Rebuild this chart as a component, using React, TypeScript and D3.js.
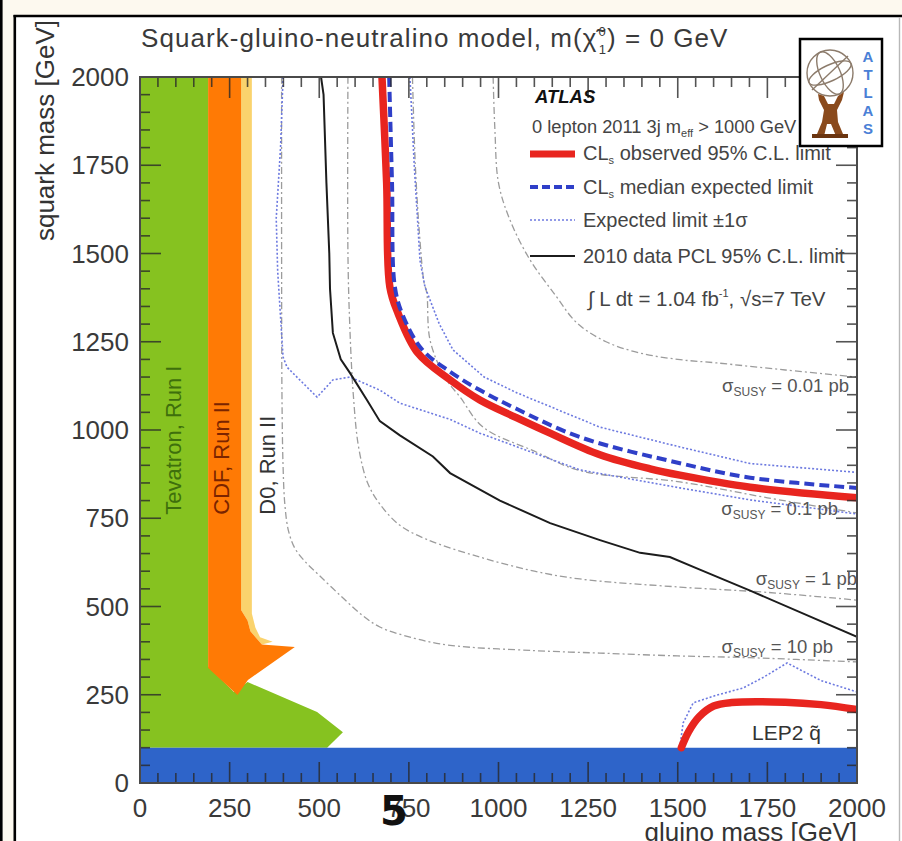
import React from 'react';
import * as d3 from 'd3';

// ---------- axis ticks ----------
const gluinoTicks = [0, 250, 500, 750, 1000, 1250, 1500, 1750, 2000];
const squarkTicks = [0, 250, 500, 750, 1000, 1250, 1500, 1750, 2000];

// ---------- excluded regions (gluino, squark) ----------
const lepBandX = [0, 2000, 2000, 0];
const lepBandY = [0, 0, 100, 100];

const tevX = [0, 0, 190, 190, 262, 300, 494, 566, 522];
const tevY = [100, 2000, 2000, 330, 258, 286, 201, 144, 100];

const d0X = [282, 312, 312, 322, 335, 370, 340, 308, 300, 282];
const d0Y = [2000, 2000, 480, 440, 413, 400, 392, 430, 460, 490];

const cdfX = [190, 282, 282, 300, 308, 340, 432, 301, 272, 190];
const cdfY = [2000, 2000, 490, 460, 430, 392, 385, 292, 249, 326];

// ---------- limit curves ----------
const obsX = [675, 688, 697, 720, 775, 865, 948, 1050, 1144, 1283, 1423, 1506, 1702, 2000];
const obsY = [2000, 1700, 1405, 1330, 1218, 1142, 1085, 1035, 991, 930, 890, 872, 838, 808];

const expX = [695, 703, 711, 735, 787, 865, 948, 1050, 1227, 1506, 1702, 2000];
const expY = [2000, 1700, 1405, 1320, 1228, 1165, 1113, 1060, 980, 906, 865, 836];

const upX = [753, 765, 781, 795, 835, 873, 960, 1052, 1283, 1506, 1702, 2000];
const upY = [2000, 1750, 1480, 1405, 1300, 1227, 1150, 1105, 1008, 952, 905, 880];

const loX = [399, 392, 380, 384, 399, 410, 494, 538, 586, 669, 725, 865, 948, 1227, 1506, 1702, 2000];
const loY = [2000, 1800, 1600, 1450, 1207, 1178, 1093, 1142, 1150, 1113, 1076, 1030, 991, 887, 836, 802, 762];

const lepDotX = [1506, 1515, 1543, 1609, 1682, 1740, 1805, 1900, 2000];
const lepDotY = [102, 170, 227, 249, 269, 300, 340, 290, 258];

const lepObsX = [1510, 1530, 1560, 1600, 1650, 1800, 1900, 2000];
const lepObsY = [100, 145, 188, 218, 228, 229, 222, 208];

const pclX = [505, 512, 520, 528, 530, 538, 560, 586, 633, 669, 725, 817, 865, 1004, 1144, 1283, 1395, 1478, 1560, 1702, 2000];
const pclY = [2000, 1950, 1700, 1500, 1400, 1275, 1200, 1161, 1085, 1025, 985, 925, 878, 800, 736, 688, 652, 640, 605, 545, 414];

// ---------- cross-section contours ----------
const c001X = [985, 990, 1000, 1032, 1088, 1160, 1219, 1300, 1395, 1500, 1609, 1800, 2000];
const c001Y = [2000, 1850, 1700, 1595, 1482, 1380, 1303, 1250, 1218, 1200, 1190, 1170, 1150];

const c01X = [760, 768, 780, 792, 800, 809, 850, 893, 957, 1100, 1227, 1506, 1750, 2000];
const c01Y = [2000, 1750, 1550, 1420, 1388, 1255, 1150, 1093, 1008, 940, 885, 853, 808, 765];

const c1X = [580, 580, 585, 595, 610, 635, 669, 725, 800, 948, 1100, 1227, 1506, 1750, 2000];
const c1Y = [2000, 1500, 1300, 1100, 950, 850, 790, 730, 690, 640, 600, 578, 555, 540, 518];

const c10X = [395, 395, 396, 399, 404, 414, 432, 460, 500, 560, 620, 669, 765, 865, 1100, 1283, 1500, 1700, 2000];
const c10Y = [2000, 1500, 1100, 900, 790, 715, 665, 628, 588, 530, 475, 442, 410, 390, 375, 368, 360, 355, 343];

const sigmaLabels = ['0.01 pb', '0.1 pb', '1 pb', '10 pb'];

const FONT = '"Liberation Sans", Arial, Helvetica, sans-serif';

export default function App() {
  const x = d3.scaleLinear().domain([0, 2000]).range([140, 857]);
  const y = d3.scaleLinear().domain([0, 2000]).range([783, 77]);
  const zip = (xs: number[], ys: number[]) => xs.map((v, i) => [v, ys[i]] as [number, number]);
  const lin = d3.line<[number, number]>().x(d => x(d[0])).y(d => y(d[1]));
  const smooth = d3
    .line<[number, number]>()
    .x(d => x(d[0]))
    .y(d => y(d[1]))
    .curve(d3.curveCatmullRom.alpha(0.5));
  const poly = (xs: number[], ys: number[]) => lin(zip(xs, ys)) + 'Z';

  const [x0, x1] = x.range();
  const [y0, y1] = y.range();
  const minor = d3.range(0, 2001, 50);

  const tickColor = '#2a2a2a';
  const grayDash = { fill: 'none', stroke: '#9c9c9c', strokeWidth: 1.3, strokeDasharray: '7 3 2 3' };
  const dotted = { fill: 'none', stroke: '#6d7ae0', strokeWidth: 1.6, strokeDasharray: '2 2' };

  return (
    <svg
      width={902}
      height={841}
      style={{ position: 'fixed', left: 0, top: 0, display: 'block' }}
      fontFamily={FONT}
    >
      <defs>
        <clipPath id="plotclip">
          <rect x={x0} y={y1} width={x1 - x0} height={y0 - y1} />
        </clipPath>
      </defs>
      {/* slide background */}
      <rect x={0} y={0} width={902} height={841} fill="#fdf9ef" />
      <rect x={15} y={16} width={887} height={825} fill="#ffffff" />
      <line x1={1.3} x2={1.3} y1={0} y2={841} stroke="#000" strokeWidth={2.6} />
      <line x1={14.8} x2={14.8} y1={15} y2={841} stroke="#000" strokeWidth={2.6} />
      <line x1={13.5} x2={902} y1={16} y2={16} stroke="#000" strokeWidth={2.4} />
      <line x1={899.5} x2={899.5} y1={17} y2={841} stroke="#b8b8b8" strokeWidth={1.4} />

      {/* title */}
      <text x={141} y={47} fontSize={26} letterSpacing={1.05} fill="#3a3a3a">
        Squark-gluino-neutralino model,  m(χ̃
        <tspan fontSize={13} dx={1} dy={-11}>0</tspan>
        <tspan fontSize={13} dx={-8} dy={18}>1</tspan>
        <tspan dy={-7}>) = 0 GeV</tspan>
      </text>

      {/* regions */}
      <g clipPath="url(#plotclip)">
        <path d={poly(tevX, tevY)} fill="#86c220" />
        <path d={poly(d0X, d0Y)} fill="#fad36d" />
        <path d={poly(cdfX, cdfY)} fill="#ff7a05" />
        <path d={poly(lepBandX, lepBandY)} fill="#2e64c9" />

        {/* cross-section contours */}
        <path d={smooth(zip(c001X, c001Y)) || ''} {...grayDash} />
        <path d={smooth(zip(c01X, c01Y)) || ''} {...grayDash} />
        <path d={smooth(zip(c1X, c1Y)) || ''} {...grayDash} />
        <path d={smooth(zip(c10X, c10Y)) || ''} {...grayDash} />

        {/* expected band edges */}
        <path d={lin(zip(upX, upY)) || ''} {...dotted} />
        <path d={lin(zip(loX, loY)) || ''} {...dotted} />
        <path d={lin(zip(lepDotX, lepDotY)) || ''} {...dotted} />

        {/* 2010 PCL */}
        <path d={lin(zip(pclX, pclY)) || ''} fill="none" stroke="#1c1c1c" strokeWidth={2} />

        {/* observed */}
        <path d={smooth(zip(obsX, obsY)) || ''} fill="none" stroke="#e8251f" strokeWidth={7.5} strokeLinejoin="round" />
        <path d={smooth(zip(lepObsX, lepObsY)) || ''} fill="none" stroke="#e8251f" strokeWidth={7.5} strokeLinecap="round" />
        {/* expected */}
        <path d={smooth(zip(expX, expY)) || ''} fill="none" stroke="#2f3fc8" strokeWidth={4} strokeDasharray="10 5" />
      </g>

      {/* band labels */}
      <text transform={`translate(181,${y(760)}) rotate(-90)`} fontSize={22} fill="#3e6f0c">Tevatron, Run I</text>
      <text transform={`translate(229,${y(760)}) rotate(-90)`} fontSize={22} fill="#7a2400">CDF, Run II</text>
      <text transform={`translate(275,${y(760)}) rotate(-90)`} fontSize={22} fill="#333">D0, Run II</text>

      {/* ticks */}
      <g stroke={tickColor} strokeWidth={1.6} opacity={0.8}>
        {minor.map(v => {
          const major = v % 250 === 0;
          const L = major ? 21 : 10;
          return (
            <g key={'t' + v}>
              <line x1={x(v)} x2={x(v)} y1={y0} y2={y0 - L} />
              <line x1={x(v)} x2={x(v)} y1={y1} y2={y1 + L} />
              <line x1={x0} x2={x0 + L} y1={y(v)} y2={y(v)} />
              <line x1={x1} x2={x1 - L} y1={y(v)} y2={y(v)} />
            </g>
          );
        })}
      </g>
      {/* frame */}
      <rect x={x0} y={y1} width={x1 - x0} height={y0 - y1} fill="none" stroke="#4a4a4a" strokeWidth={2} />

      {/* tick labels */}
      {gluinoTicks.map(v => (
        <text key={'gx' + v} x={x(v)} y={817} fontSize={26} textAnchor="middle" fill="#3a3a3a">
          {v}
        </text>
      ))}
      {squarkTicks.map(v => (
        <text key={'sy' + v} x={129} y={y(v) + 9} fontSize={26} textAnchor="end" fill="#3a3a3a">
          {v}
        </text>
      ))}

      {/* axis titles */}
      <text x={857} y={841} fontSize={26} textAnchor="end" fill="#333">gluino mass [GeV]</text>
      <text transform="translate(54,20) rotate(-90)" fontSize={26} textAnchor="end" fill="#333">squark mass [GeV]</text>

      {/* sigma labels */}
      {sigmaLabels.map((s, i) => {
        const pos = [
          [849, 392],
          [838, 515],
          [857, 585],
          [833, 653],
        ][i];
        return (
          <text key={s} x={pos[0]} y={pos[1]} fontSize={18.5} textAnchor="end" fill="#555">
            σ<tspan fontSize={12} dy={4}>SUSY</tspan>
            <tspan dy={-4}> = {s}</tspan>
          </text>
        );
      })}

      {/* LEP2 label */}
      <text x={752} y={740} fontSize={21} fill="#333">
        LEP2 q̃
      </text>

      {/* legend */}
      <text x={535} y={103} fontSize={18.5} fontWeight="bold" fontStyle="italic" fill="#111">ATLAS</text>
      <text x={532} y={133} fontSize={18.3} fill="#444">
        0 lepton 2011 3j m<tspan fontSize={11} dy={4}>eff</tspan>
        <tspan dy={-4}> &gt; 1000 GeV</tspan>
      </text>
      <line x1={530} x2={575} y1={154} y2={154} stroke="#e8251f" strokeWidth={7} />
      <text x={583} y={160} fontSize={20} fill="#444">
        CL<tspan fontSize={11} dy={4}>s</tspan>
        <tspan dy={-4}> observed 95% C.L. limit</tspan>
      </text>
      <line x1={530} x2={575} y1={187} y2={187} stroke="#2f3fc8" strokeWidth={4} strokeDasharray="8 4" />
      <text x={583} y={194} fontSize={20} fill="#444">
        CL<tspan fontSize={11} dy={4}>s</tspan>
        <tspan dy={-4}> median expected limit</tspan>
      </text>
      <line x1={530} x2={575} y1={220} y2={220} {...dotted} />
      <text x={583} y={227} fontSize={20} fill="#444">Expected limit ±1σ</text>
      <line x1={530} x2={575} y1={256} y2={256} stroke="#1c1c1c" strokeWidth={2} />
      <text x={583} y={263} fontSize={20} fill="#444">2010 data PCL 95% C.L. limit</text>
      <text x={588} y={306} fontSize={20.5} fill="#444">
        ∫ L dt = 1.04 fb<tspan fontSize={11} dy={-9}>-1</tspan>
        <tspan dy={9}>, √s=7 TeV</tspan>
      </text>

      {/* ATLAS logo */}
      <g>
        <rect x={800} y={39} width={82} height={107} fill="#fff" stroke="#000" strokeWidth={2.5} />
        <g fill="none" stroke="#8c7b6b" strokeWidth={1.4}>
          <circle cx={830} cy={73} r={23} />
          <ellipse cx={830} cy={73} rx={10} ry={23} transform="rotate(-25 830 73)" />
          <ellipse cx={830} cy={73} rx={23} ry={8} transform="rotate(-25 830 73)" />
          <line x1={812} y1={90} x2={848} y2={56} />
        </g>
        <path
          d="M818,94 L824,96 L828,104 L834,104 L838,96 L844,92 L842,100 L837,110 L838,122 L843,134 L836,136 L831,124 L827,124 L824,136 L817,134 L822,122 L824,110 L819,100 Z"
          fill="#8a4a1c"
        />
        <rect x={812} y={134} width={36} height={4} fill="#6b3510" />
        {['A', 'T', 'L', 'A', 'S'].map((c, i) => (
          <text key={i} x={868} y={62 + i * 18} fontSize={15} fontWeight="bold" fill="#4a80d6" textAnchor="middle">
            {c}
          </text>
        ))}
      </g>

      {/* slide page number */}
      <text x={394} y={825} fontSize={40} fontWeight="bold" fill="#111" textAnchor="middle" fontFamily='"DejaVu Sans", sans-serif'>
        5
      </text>
    </svg>
  );
}
